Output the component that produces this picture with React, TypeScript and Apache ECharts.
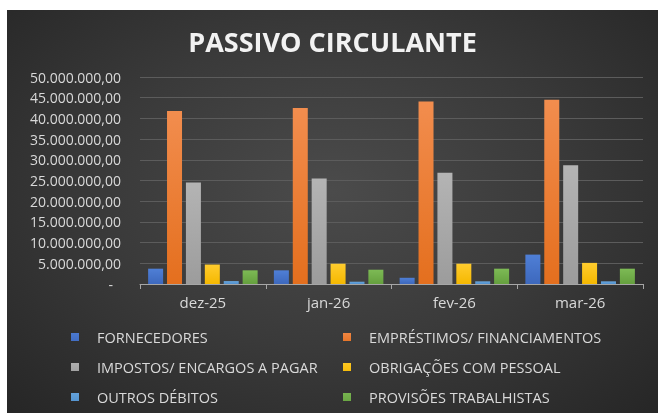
import React, { useEffect, useRef } from "react";
import * as echarts from "echarts";

const categories = ["dez-25", "jan-26", "fev-26", "mar-26"];
const seriesNames = [
  "FORNECEDORES",
  "EMPRÉSTIMOS/ FINANCIAMENTOS",
  "IMPOSTOS/ ENCARGOS A PAGAR",
  "OBRIGAÇÕES COM PESSOAL",
  "OUTROS DÉBITOS",
  "PROVISÕES TRABALHISTAS",
];
const fornecedores = [3700000, 3300000, 1500000, 7100000];
const emprestimos = [41800000, 42500000, 44100000, 44500000];
const impostos = [24500000, 25500000, 26900000, 28700000];
const obrigacoes = [4700000, 4900000, 4900000, 5100000];
const outrosDebitos = [700000, 550000, 640000, 640000];
const provisoes = [3300000, 3450000, 3700000, 3700000];
const seriesValues = [fornecedores, emprestimos, impostos, obrigacoes, outrosDebitos, provisoes];

const colorsTop = ["#4f7fd6", "#f28d4e", "#b4b4b4", "#ffcc2e", "#6aa8e0", "#7dba55"];
const colorsBottom = ["#3d68bd", "#e46f1e", "#9c9c9c", "#f5b800", "#4f8fcc", "#65a03e"];

function fmt(v: number): string {
  if (v === 0) return "{z|-}";
  const int = Math.round(v).toString().replace(/\B(?=(\d{3})+(?!\d))/g, ".");
  return int + ",00";
}

// legend placement (chart coordinates)
const legendPos = [
  { left: 64, top: 319 },
  { left: 336, top: 319 },
  { left: 64, top: 349 },
  { left: 336, top: 349 },
  { left: 64, top: 379 },
  { left: 336, top: 379 },
];

export default function App() {
  const ref = useRef<HTMLDivElement>(null);
  useEffect(() => {
    if (!ref.current) return;
    const chart = echarts.init(ref.current, undefined, { renderer: "svg" });
    const font = "'Open Sans', sans-serif";
    chart.setOption({
      animation: false,
      backgroundColor: "transparent",
      title: {
        text: "PASSIVO CIRCULANTE",
        left: "center",
        top: 13,
        textStyle: { color: "#f2f2f2", fontSize: 27, fontWeight: "bold", fontFamily: font },
      },
      grid: { left: 133, right: 15, top: 67, bottom: 129, containLabel: false },
      legend: seriesNames.map((n, i) => ({
        data: [n],
        left: legendPos[i].left,
        top: legendPos[i].top,
        padding: 0,
        itemWidth: 21,
        itemHeight: 16,
        icon: "path://M0,4H8V12H0Z M20.9,0H21V0.1H20.9Z M20.9,15.9H21V16H20.9Z",
        selectedMode: false,
        textStyle: { color: "#d9d9d9", fontSize: 14.5, fontFamily: font },
      })),
      xAxis: {
        type: "category",
        data: categories,
        axisLine: { lineStyle: { color: "#a6a6a6", width: 1 } },
        axisTick: { show: true, length: 5, lineStyle: { color: "#a6a6a6" } },
        axisLabel: { color: "#d9d9d9", fontSize: 15, fontFamily: font, margin: 10 },
      },
      yAxis: {
        type: "value",
        min: 0,
        max: 50000000,
        interval: 5000000,
        axisLine: { show: false },
        axisTick: { show: false },
        splitLine: { lineStyle: { color: "#5c5c5c", width: 1 } },
        axisLabel: {
          color: "#d9d9d9",
          fontSize: 14,
          fontFamily: font,
          margin: 19,
          formatter: fmt,
          rich: { z: { color: "#d9d9d9", fontSize: 14, fontFamily: font, padding: [0, 8, 0, 0] } },
        },
      },
      series: seriesNames.map((n, i) => ({
        name: n,
        type: "bar",
        data: seriesValues[i],
        barWidth: 15,
        barGap: "26%",
        itemStyle: {
          color: {
            type: "linear",
            x: 0,
            y: 0,
            x2: 0,
            y2: 1,
            colorStops: [
              { offset: 0, color: colorsTop[i] },
              { offset: 1, color: colorsBottom[i] },
            ],
          },
        },
      })),
    });
    return () => chart.dispose();
  }, []);
  return (
    <div
      style={{
        position: "fixed",
        left: 7,
        top: 10,
        width: 651,
        height: 403,
        background: "radial-gradient(ellipse at 50% 45%, #4b4b4b 0%, #3a3a3a 50%, #262626 100%)",
      }}
    >
      <div ref={ref} style={{ width: 651, height: 403 }} />
    </div>
  );
}
